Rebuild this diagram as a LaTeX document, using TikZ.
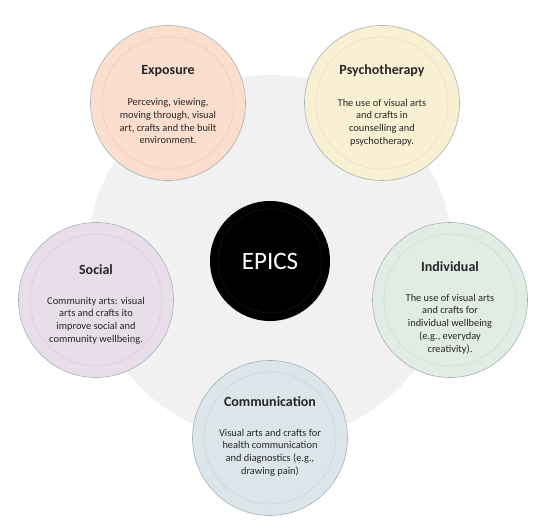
\documentclass[tikz,border=0pt]{standalone}
\usepackage{fontspec}
\setmainfont{Carlito}
\definecolor{EpicsGrey}{HTML}{F1F1F1}
\definecolor{EpicsLine}{HTML}{A3B3B3}
\definecolor{ExpoFill}{HTML}{FBDECD}
\definecolor{PsyFill}{HTML}{F9F0D3}
\definecolor{IndFill}{HTML}{E1ECE4}
\definecolor{ComFill}{HTML}{DCE6EA}
\definecolor{SocFill}{HTML}{E8DEEA}
\usetikzlibrary{positioning}

\begin{document}
\begin{tikzpicture}[
    x=1pt, y=-1pt,
    node distance=15pt,
    part/.style={circle, draw=EpicsLine, line width=0.6pt, minimum size=155pt, inner sep=0pt},
    ring/.style={draw=black, draw opacity=0.06, line width=0.8pt},
    title/.style={font=\fontsize{14}{16}\selectfont\bfseries, text=black!85},
    body/.style={font=\fontsize{10.4}{12.7}\selectfont, align=center, text=black!85, anchor=north}
  ]
    \useasboundingbox (0,0) rectangle (544,526);
    \fill[EpicsGrey] (270,258) circle[radius=183];

    \node[part, fill=ExpoFill] (expo) at (168,103) {};
    \node[part, fill=PsyFill] (psy) at (382,103) {};
    \node[part, fill=IndFill] (ind) at (450,300) {};
    \node[part, fill=ComFill] (com) at (270,438) {};
    \node[part, fill=SocFill] (soc) at (96,300) {};
    \node[circle, fill=black, minimum size=120pt, inner sep=0pt, text=white,
      font=\fontsize{25}{28}\selectfont] (epics) at (270,261) {EPICS};

    % inner rings
    \foreach \c in {expo,psy,ind,com,soc}
      \draw[ring] (\c.center) circle[radius=66];
    \draw[draw=white, draw opacity=0.08, line width=0.6pt] (epics.center) circle[radius=52];

    \node[title] (expoT) at ([yshift=32pt]expo.center) {Exposure};
    \node[body, below=of expoT] (expoB) {Perceving, viewing,\\moving through, visual\\art, crafts and the built\\environment.};

    \node[title] (psyT) at ([yshift=32pt]psy.center) {Psychotherapy};
    \node[body, below=of psyT] (psyB) {The use of visual arts\\and crafts in\\counselling and\\psychotherapy.};

    \node[title] (indT) at ([yshift=33pt]ind.center) {Individual};
    \node[body, below=of indT] (indB) {The use of visual arts\\and crafts for\\individual wellbeing\\(e.g., everyday\\creativity).};

    \node[title] (comT) at ([yshift=36pt]com.center) {Communication};
    \node[body, below=of comT] (comB) {Visual arts and crafts for\\health communication\\and diagnostics (e.g.,\\drawing pain)};

    \node[title] (socT) at ([yshift=30pt]soc.center) {Social};
    \node[body, below=of socT] (socB) {Community arts: visual\\arts and crafts ito\\improve social and\\community wellbeing.};
  \end{tikzpicture}
\end{document}
